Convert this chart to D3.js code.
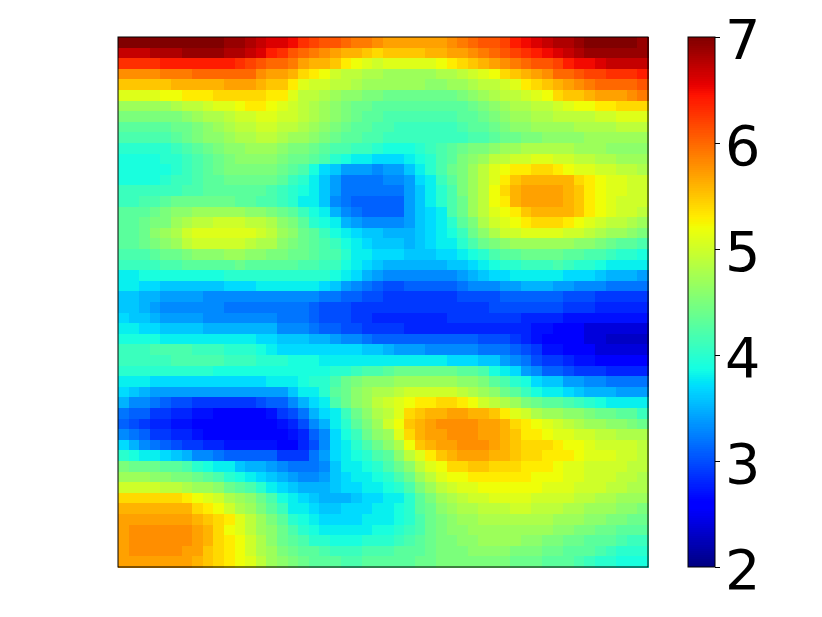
<!DOCTYPE html>
<html><head><meta charset="utf-8">
<script src="https://cdn.jsdelivr.net/npm/d3@7"></script>
<style>html,body{margin:0;padding:0;background:#fff}svg{display:block}</style>
</head><body><svg id="c" width="822" height="617"></svg>
<script>
// grid values, tenths of a unit, top row first
const gridRows = [
[70,70,70,70,70,70,70,70,70,70,69,69,68,67,66,66,65,63,62,61,61,60,59,59,58,57,57,57,57,57,57,58,59,60,61,61,62,64,65,66,67,68,68,69,70,70,70,70,70,69],
[67,67,67,68,68,68,69,69,69,69,68,68,67,66,64,63,61,60,59,58,57,56,56,55,54,55,55,55,55,56,56,57,57,58,59,60,61,62,63,64,65,66,67,68,69,69,69,69,69,69],
[63,63,63,63,64,64,64,64,64,64,64,63,62,61,60,60,59,57,56,56,55,53,52,51,50,51,51,51,51,51,52,53,54,55,56,57,58,59,60,61,61,62,64,65,65,66,67,67,67,67],
[58,58,58,58,59,59,59,60,60,60,60,60,60,58,57,57,56,54,53,52,50,49,49,48,48,47,47,47,47,47,48,48,49,50,51,52,54,55,56,57,58,60,60,61,62,62,63,63,63,64],
[55,55,55,55,55,56,56,56,56,56,57,57,57,56,55,55,53,51,50,50,49,49,48,47,47,47,47,47,47,46,46,47,47,48,49,49,50,51,53,54,55,56,57,58,59,60,60,60,60,61],
[51,51,51,51,52,52,53,53,53,54,54,54,54,54,53,53,51,49,49,48,47,46,46,45,45,44,44,44,44,44,44,44,45,46,47,48,49,49,50,51,52,54,55,55,56,57,57,57,58,59],
[47,47,47,47,47,48,49,49,50,51,51,52,53,53,52,51,50,49,48,47,46,45,44,44,43,43,43,43,43,43,43,43,43,44,45,46,47,48,48,49,49,50,51,52,52,53,53,54,54,54],
[45,45,45,45,45,45,46,47,48,48,49,50,50,51,51,50,50,49,48,47,46,45,44,43,43,42,42,42,42,42,42,42,43,43,44,45,46,47,47,48,48,49,49,49,49,50,50,51,51,51],
[43,43,43,43,43,44,44,45,46,47,48,49,49,50,50,49,49,48,47,46,45,44,43,43,42,42,41,41,41,41,41,41,42,43,43,44,45,46,46,47,47,47,47,48,48,48,48,49,49,49],
[42,42,42,42,42,43,44,45,46,46,47,48,48,49,49,48,47,47,46,45,44,43,43,42,42,41,41,41,41,41,41,41,41,42,42,43,44,44,45,45,46,46,46,46,47,47,47,47,47,47],
[40,40,40,40,40,41,42,43,44,45,46,46,47,47,47,46,45,45,44,43,42,42,41,41,40,39,39,39,40,41,42,43,44,45,45,46,47,47,48,48,48,48,48,47,47,47,46,46,46,46],
[39,39,39,39,40,40,41,42,43,44,45,46,46,46,46,45,44,44,43,42,40,39,38,38,37,37,37,38,39,40,42,43,45,46,47,49,49,50,50,51,51,50,50,49,49,48,48,47,47,47],
[39,39,39,39,39,40,41,42,43,44,45,45,45,45,45,44,43,42,39,37,36,34,34,34,33,34,34,36,38,40,42,44,45,47,49,51,52,53,53,54,54,53,52,51,51,50,50,49,49,48],
[39,39,39,39,40,41,41,42,43,43,44,44,44,44,44,43,41,40,38,36,34,32,32,32,32,33,33,34,37,38,41,43,45,47,49,51,53,55,56,56,56,56,56,54,53,52,51,51,50,50],
[41,41,41,41,41,41,42,42,43,43,43,43,43,43,42,41,40,39,38,36,34,32,32,32,32,32,32,34,36,38,40,42,45,47,49,52,54,56,57,57,57,57,56,55,53,52,51,51,50,50],
[41,41,42,42,43,44,44,44,44,44,44,43,43,42,42,41,40,38,38,36,33,32,31,31,31,31,31,34,36,38,40,42,44,47,49,52,53,56,57,57,57,57,56,55,53,52,51,50,50,50],
[43,43,43,44,45,46,46,47,47,47,47,47,46,46,45,44,43,41,39,38,35,33,32,31,31,31,31,34,36,37,38,42,44,47,49,51,52,53,55,56,56,56,56,55,53,52,51,50,50,49],
[43,43,44,45,45,47,48,49,49,50,50,50,49,49,48,46,45,43,40,39,38,35,34,33,33,33,33,34,36,37,38,40,43,45,48,50,51,52,53,54,54,54,53,52,51,50,49,49,48,47],
[43,43,44,46,47,48,50,51,51,51,51,51,51,50,49,47,46,44,43,41,39,38,37,36,36,35,35,35,36,37,38,39,41,44,46,48,50,50,51,51,51,51,50,50,49,48,47,47,46,45],
[43,43,44,45,46,47,49,50,50,50,50,50,49,48,48,46,45,44,43,42,41,39,38,37,36,36,36,35,36,37,38,38,40,42,44,45,46,47,47,47,47,47,47,46,46,45,44,43,43,42],
[42,42,42,43,44,44,45,46,46,46,47,47,46,46,45,45,44,44,43,42,42,40,38,38,37,37,37,36,36,36,37,37,38,39,40,42,43,43,44,44,44,44,43,43,42,42,41,40,40,39],
[41,41,41,41,42,42,43,43,43,43,43,44,43,43,43,43,43,42,42,41,41,39,38,37,36,35,35,35,35,35,35,36,36,37,38,39,40,40,41,41,41,42,41,40,40,39,38,38,38,38],
[38,38,39,39,39,39,39,39,39,39,40,40,40,40,40,40,40,40,40,40,39,38,37,35,34,33,33,33,33,33,33,33,34,35,36,37,37,38,38,38,38,38,37,37,37,36,35,35,35,34],
[38,38,37,37,36,36,36,36,36,36,37,37,37,38,38,38,38,38,38,37,36,34,33,32,31,30,30,31,31,31,31,31,32,33,33,33,34,34,35,35,35,34,34,33,33,33,32,32,32,32],
[36,36,35,35,34,34,34,34,33,33,33,33,33,33,33,33,33,33,33,32,32,31,31,30,30,29,29,29,29,29,29,29,30,30,30,30,31,31,31,31,31,31,30,30,30,29,29,29,29,29],
[36,36,35,34,33,33,33,33,33,33,32,32,32,32,32,32,32,32,31,30,30,30,29,29,29,29,29,29,29,29,29,29,29,29,29,30,30,30,30,30,30,30,29,29,29,28,28,28,28,28],
[37,36,36,35,34,34,34,34,33,33,33,33,33,33,33,32,32,32,31,30,30,30,29,29,28,28,28,28,28,28,28,29,29,29,29,29,29,29,28,28,28,28,27,27,27,27,27,27,27,27],
[38,38,37,37,36,36,36,36,35,35,35,35,35,35,35,33,33,33,32,31,31,30,30,29,29,29,29,28,28,28,28,28,28,28,28,28,28,28,28,27,27,26,26,26,24,24,24,24,24,24],
[39,39,39,39,38,38,38,38,38,38,38,38,38,37,37,36,36,36,35,35,34,33,33,32,31,31,31,31,31,31,31,31,31,31,30,30,30,29,28,27,26,26,26,26,24,24,23,23,23,23],
[41,41,41,42,42,42,42,41,41,41,40,40,40,39,38,37,37,37,37,37,37,37,37,36,36,35,34,34,34,33,33,33,33,33,32,32,32,31,30,29,27,27,26,26,26,24,24,24,24,24],
[41,41,41,41,41,42,42,42,42,42,41,41,41,40,40,40,39,39,39,38,38,38,38,38,38,38,38,38,38,38,38,37,37,37,36,36,34,33,32,30,29,29,28,27,27,26,26,26,26,26],
[40,40,40,40,40,40,40,40,40,39,39,39,39,39,39,39,39,39,39,39,40,40,41,42,42,43,44,44,44,44,44,44,43,43,42,39,38,37,34,33,31,31,30,29,29,29,28,28,28,28],
[38,38,38,37,37,37,37,37,37,37,37,37,37,37,38,38,38,39,40,40,42,44,45,46,46,46,47,47,47,47,47,47,46,46,45,43,42,40,39,37,36,36,34,34,33,33,32,32,32,32],
[37,36,35,34,34,34,34,34,34,34,34,34,34,34,34,34,36,38,38,40,43,44,46,47,48,48,49,50,50,50,50,50,49,48,47,46,44,43,41,39,38,38,37,36,35,35,35,34,34,34],
[35,33,33,32,31,30,30,29,29,29,29,29,29,30,31,31,33,35,37,38,42,44,46,47,49,50,51,52,53,53,54,54,53,52,50,49,48,47,45,44,43,43,42,41,40,39,38,38,38,38],
[32,31,31,29,29,28,28,27,27,26,26,26,26,26,27,29,30,32,35,37,38,41,44,46,48,49,51,54,55,56,56,57,57,56,56,55,53,51,50,48,47,47,46,46,45,44,44,43,43,41],
[31,30,29,28,28,27,27,26,26,26,26,26,26,26,26,27,28,30,33,35,38,40,43,45,47,50,52,55,56,57,58,58,58,58,57,57,56,54,53,52,51,50,49,48,47,47,46,46,45,44],
[33,32,31,29,29,28,28,27,26,26,26,26,26,26,26,26,27,28,31,33,37,39,41,44,46,47,51,54,56,57,57,58,58,58,57,57,56,55,53,53,52,51,51,50,50,49,49,48,48,48],
[37,35,33,32,31,30,29,29,28,28,27,27,27,27,27,26,26,28,30,33,37,38,40,42,44,46,48,52,55,56,57,57,58,58,58,57,56,55,54,54,54,53,52,52,51,50,50,50,50,49],
[40,39,38,38,37,36,35,33,33,32,31,31,31,31,31,29,29,29,32,34,37,38,39,40,42,43,46,49,51,53,55,56,57,57,57,56,56,55,54,54,53,53,53,52,51,51,51,50,50,49],
[45,44,44,44,43,43,42,40,39,38,38,36,35,35,34,33,32,32,32,33,36,38,38,39,40,42,44,46,49,51,52,54,54,55,55,54,54,54,53,53,53,52,51,51,50,50,50,50,49,49],
[47,47,47,46,46,45,45,44,43,42,40,39,38,37,36,35,34,33,33,34,36,37,38,38,39,40,42,44,47,49,51,52,52,53,53,53,53,53,53,52,52,52,51,51,50,50,50,49,49,48],
[50,50,50,50,49,49,48,47,47,46,44,43,42,40,38,37,36,35,35,35,36,37,37,38,38,39,40,42,45,47,49,50,51,51,52,52,52,52,52,52,51,51,51,50,50,50,49,49,48,48],
[54,54,54,54,54,54,53,52,51,50,48,47,46,44,42,39,38,37,36,35,35,35,36,37,37,38,38,40,43,45,47,48,49,50,50,51,51,51,51,50,50,50,50,49,49,48,48,47,47,47],
[56,56,56,56,56,56,56,54,53,52,50,48,47,45,43,41,38,38,37,36,36,37,37,37,38,38,39,40,43,44,46,47,48,48,49,49,49,50,50,49,49,49,48,48,47,47,47,46,46,45],
[57,57,57,57,57,57,57,56,55,54,53,51,49,47,45,43,40,39,38,37,37,37,37,38,38,38,39,40,42,44,45,46,47,47,48,48,48,48,48,48,48,47,47,47,46,46,45,45,44,44],
[57,58,58,58,58,58,58,57,56,54,52,51,49,47,46,44,42,40,39,38,38,38,38,38,39,39,40,41,42,44,45,46,46,47,47,47,47,47,47,47,47,46,46,45,45,44,44,43,43,43],
[57,58,58,58,58,58,58,57,56,54,53,52,50,48,46,44,43,42,40,40,39,39,39,40,40,40,41,42,43,44,45,45,46,46,47,47,47,47,46,46,45,45,44,44,43,43,43,42,41,41],
[57,58,58,58,58,58,57,57,55,54,53,52,50,48,47,45,44,43,43,42,41,41,41,42,42,42,43,43,43,44,45,45,45,46,46,46,46,45,45,45,44,44,43,43,43,42,41,40,40,40],
[57,57,57,57,57,57,57,56,55,54,53,52,51,49,47,46,45,44,43,43,43,42,42,43,43,43,43,43,44,44,45,45,45,45,45,45,45,44,44,44,43,43,43,42,41,40,40,39,39,39]
];
const colorbarTicks = [2,3,4,5,6,7];
const valueDomain = [2,7];

const box = {x:118,y:37,size:530};
const barBox = {x:688,y:37,w:27,h:530};
const seg = (pts)=>d3.scaleLinear().domain(pts.map(p=>p[0])).range(pts.map(p=>p[1])).clamp(true);
const rCh = seg([[0,0],[.35,0],[.66,1],[.89,1],[1,.5]]);
const gCh = seg([[0,0],[.125,0],[.375,1],[.64,1],[.91,0],[1,0]]);
const bCh = seg([[0,.5],[.11,1],[.34,1],[.65,0],[1,0]]);
const norm = d3.scaleLinear().domain(valueDomain).range([0,1]);
const jet = v=>{const t=norm(v);return d3.rgb(rCh(t)*255,gCh(t)*255,bCh(t)*255).formatRgb();};

const svg = d3.select('#c');
const xS = d3.scaleBand().domain(d3.range(gridRows[0].length)).range([box.x,box.x+box.size]);
const yS = d3.scaleBand().domain(d3.range(gridRows.length)).range([box.y,box.y+box.size]);
const cells = gridRows.flatMap((row,r)=>row.map((v,c)=>({r,c,v:v/10})));
const gc = svg.append('g').attr('shape-rendering','crispEdges');
gc.selectAll('rect').data(cells).join('rect')
  .attr('x',d=>xS(d.c)).attr('y',d=>yS(d.r))
  .attr('width',xS.bandwidth()+.5).attr('height',yS.bandwidth()+.5)
  .attr('fill',d=>jet(d.v));
svg.append('rect').attr('x',box.x).attr('y',box.y).attr('width',box.size).attr('height',box.size)
  .attr('fill','none').attr('stroke','#000').attr('stroke-width',1);

const barY = d3.scaleLinear().domain(valueDomain).range([barBox.y+barBox.h,barBox.y]);
const steps = d3.range(256).map(i=>valueDomain[0]+(i+.5)/256*(valueDomain[1]-valueDomain[0]));
const stepH = barBox.h/256;
svg.append('g').attr('shape-rendering','crispEdges').selectAll('rect').data(steps).join('rect')
  .attr('x',barBox.x).attr('width',barBox.w)
  .attr('y',d=>barY(d)-stepH/2-.3).attr('height',stepH+.6)
  .attr('fill',d=>jet(d));
svg.append('rect').attr('x',barBox.x).attr('y',barBox.y).attr('width',barBox.w).attr('height',barBox.h)
  .attr('fill','none').attr('stroke','#000').attr('stroke-width',1);
const ax = svg.append('g').attr('transform',`translate(${barBox.x+barBox.w},0)`)
  .call(d3.axisRight(barY).tickValues(colorbarTicks).tickFormat(d3.format('d')).tickSize(5).tickPadding(5));
ax.select('.domain').remove();
ax.selectAll('text').attr('font-family','"DejaVu Sans"').attr('font-size',55.6).attr('fill','#000').attr('dy','.385em');
ax.selectAll('line').attr('stroke','#000').attr('stroke-width',1);
</script></body></html>
